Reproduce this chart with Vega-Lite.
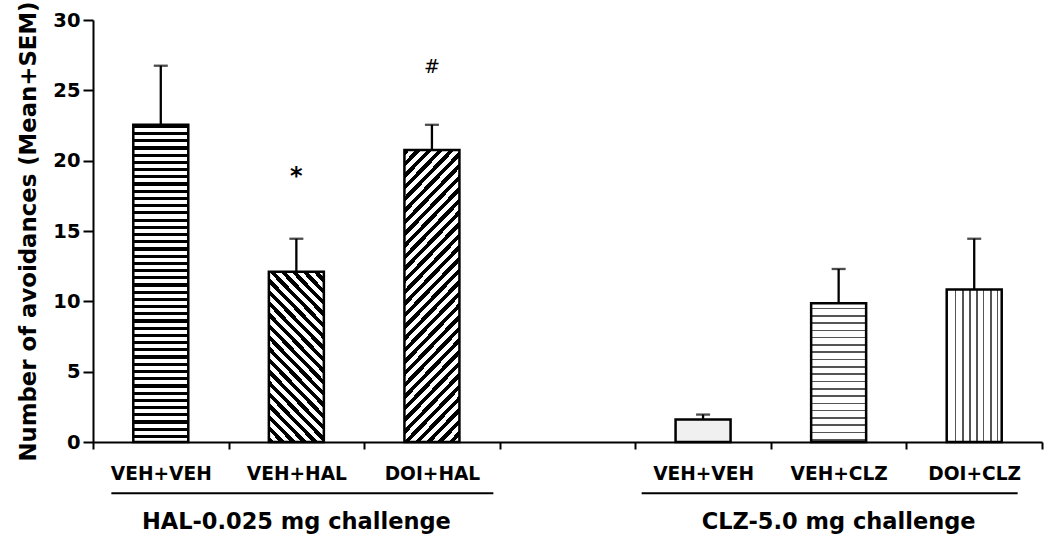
{
"$schema": "https://vega.github.io/schema/vega-lite/v6.json",
"width": 949,
"height": 422,
"autosize": {"type": "none"},
"padding": {"left": 93, "top": 20, "right": 8, "bottom": 93},
"background": "white",
"config": {"view": {"stroke": null}, "font": "DejaVu Sans"},
"data": {"values": [
{"key": "HAL VEH+VEH", "group": "HAL-0.025 mg challenge", "mean": 22.55, "err": 26.75},
{"key": "HAL VEH+HAL", "group": "HAL-0.025 mg challenge", "mean": 12.1, "err": 14.45, "sig": "*"},
{"key": "HAL DOI+HAL", "group": "HAL-0.025 mg challenge", "mean": 20.75, "err": 22.55, "sig": "#"},
{"key": "CLZ VEH+VEH", "group": "CLZ-5.0 mg challenge", "mean": 1.6, "err": 1.95},
{"key": "CLZ VEH+CLZ", "group": "CLZ-5.0 mg challenge", "mean": 9.86, "err": 12.3},
{"key": "CLZ DOI+CLZ", "group": "CLZ-5.0 mg challenge", "mean": 10.85, "err": 14.45}
]},
"encoding": {
"x": {"field": "key", "type": "nominal", "sort": null,
 "scale": {"domain": ["HAL VEH+VEH", "HAL VEH+HAL", "HAL DOI+HAL", "gap", "CLZ VEH+VEH", "CLZ VEH+CLZ", "CLZ DOI+CLZ"], "paddingInner": 0, "paddingOuter": 0},
 "axis": {"title": null, "labelExpr": "indexof(datum.label,' ')>0 ? substring(datum.label,4) : ''", "labelAngle": 0, "labelFont": "DejaVu Sans", "labelFontWeight": "bold", "labelFontSize": 18.6, "labelColor": "#000", "labelPadding": 15, "tickBand": "extent", "tickSize": 7, "tickWidth": 2, "tickColor": "#000", "domainColor": "#000", "domainWidth": 2, "labelOverlap": false}},
"y": {"field": "mean", "type": "quantitative", "scale": {"domain": [0, 30], "nice": false},
 "axis": {"title": "Number of avoidances (Mean+SEM)", "values": [0, 5, 10, 15, 20, 25, 30], "grid": false, "labelFont": "DejaVu Sans", "labelFontWeight": "bold", "labelFontSize": 19.5, "labelColor": "#000", "labelPadding": 3, "tickSize": 10, "tickWidth": 2, "tickColor": "#000", "domainColor": "#000", "domainWidth": 2, "titleFont": "DejaVu Sans", "titleFontWeight": "bold", "titleFontSize": 22.8, "titleColor": "#000", "titlePadding": 12}}
},
"layer": [
{"transform": [{"filter": "datum.key==='HAL VEH+VEH'"}],
 "mark": {"type": "bar", "width": 55, "stroke": "#000", "strokeWidth": 2.5,
 "fill": {"gradient": "linear", "x1": 0, "y1": 0, "x2": 0, "y2": 1, "stops": [
{"offset":0,"color":"#000"},{"offset":0.01,"color":"#000"},{"offset":0.01,"color":"#fff"},{"offset":0.0227,"color":"#fff"},
{"offset":0.0227,"color":"#000"},{"offset":0.0327,"color":"#000"},{"offset":0.0327,"color":"#fff"},{"offset":0.0455,"color":"#fff"},
{"offset":0.0455,"color":"#000"},{"offset":0.0555,"color":"#000"},{"offset":0.0555,"color":"#fff"},{"offset":0.0682,"color":"#fff"},
{"offset":0.0682,"color":"#000"},{"offset":0.0782,"color":"#000"},{"offset":0.0782,"color":"#fff"},{"offset":0.0909,"color":"#fff"},
{"offset":0.0909,"color":"#000"},{"offset":0.1009,"color":"#000"},{"offset":0.1009,"color":"#fff"},{"offset":0.1136,"color":"#fff"},
{"offset":0.1136,"color":"#000"},{"offset":0.1236,"color":"#000"},{"offset":0.1236,"color":"#fff"},{"offset":0.1364,"color":"#fff"},
{"offset":0.1364,"color":"#000"},{"offset":0.1464,"color":"#000"},{"offset":0.1464,"color":"#fff"},{"offset":0.1591,"color":"#fff"},
{"offset":0.1591,"color":"#000"},{"offset":0.1691,"color":"#000"},{"offset":0.1691,"color":"#fff"},{"offset":0.1818,"color":"#fff"},
{"offset":0.1818,"color":"#000"},{"offset":0.1918,"color":"#000"},{"offset":0.1918,"color":"#fff"},{"offset":0.2045,"color":"#fff"},
{"offset":0.2045,"color":"#000"},{"offset":0.2145,"color":"#000"},{"offset":0.2145,"color":"#fff"},{"offset":0.2273,"color":"#fff"},
{"offset":0.2273,"color":"#000"},{"offset":0.2373,"color":"#000"},{"offset":0.2373,"color":"#fff"},{"offset":0.25,"color":"#fff"},
{"offset":0.25,"color":"#000"},{"offset":0.26,"color":"#000"},{"offset":0.26,"color":"#fff"},{"offset":0.2727,"color":"#fff"},
{"offset":0.2727,"color":"#000"},{"offset":0.2827,"color":"#000"},{"offset":0.2827,"color":"#fff"},{"offset":0.2955,"color":"#fff"},
{"offset":0.2955,"color":"#000"},{"offset":0.3055,"color":"#000"},{"offset":0.3055,"color":"#fff"},{"offset":0.3182,"color":"#fff"},
{"offset":0.3182,"color":"#000"},{"offset":0.3282,"color":"#000"},{"offset":0.3282,"color":"#fff"},{"offset":0.3409,"color":"#fff"},
{"offset":0.3409,"color":"#000"},{"offset":0.3509,"color":"#000"},{"offset":0.3509,"color":"#fff"},{"offset":0.3636,"color":"#fff"},
{"offset":0.3636,"color":"#000"},{"offset":0.3736,"color":"#000"},{"offset":0.3736,"color":"#fff"},{"offset":0.3864,"color":"#fff"},
{"offset":0.3864,"color":"#000"},{"offset":0.3964,"color":"#000"},{"offset":0.3964,"color":"#fff"},{"offset":0.4091,"color":"#fff"},
{"offset":0.4091,"color":"#000"},{"offset":0.4191,"color":"#000"},{"offset":0.4191,"color":"#fff"},{"offset":0.4318,"color":"#fff"},
{"offset":0.4318,"color":"#000"},{"offset":0.4418,"color":"#000"},{"offset":0.4418,"color":"#fff"},{"offset":0.4545,"color":"#fff"},
{"offset":0.4545,"color":"#000"},{"offset":0.4645,"color":"#000"},{"offset":0.4645,"color":"#fff"},{"offset":0.4773,"color":"#fff"},
{"offset":0.4773,"color":"#000"},{"offset":0.4873,"color":"#000"},{"offset":0.4873,"color":"#fff"},{"offset":0.5,"color":"#fff"},
{"offset":0.5,"color":"#000"},{"offset":0.51,"color":"#000"},{"offset":0.51,"color":"#fff"},{"offset":0.5227,"color":"#fff"},
{"offset":0.5227,"color":"#000"},{"offset":0.5327,"color":"#000"},{"offset":0.5327,"color":"#fff"},{"offset":0.5455,"color":"#fff"},
{"offset":0.5455,"color":"#000"},{"offset":0.5555,"color":"#000"},{"offset":0.5555,"color":"#fff"},{"offset":0.5682,"color":"#fff"},
{"offset":0.5682,"color":"#000"},{"offset":0.5782,"color":"#000"},{"offset":0.5782,"color":"#fff"},{"offset":0.5909,"color":"#fff"},
{"offset":0.5909,"color":"#000"},{"offset":0.6009,"color":"#000"},{"offset":0.6009,"color":"#fff"},{"offset":0.6136,"color":"#fff"},
{"offset":0.6136,"color":"#000"},{"offset":0.6236,"color":"#000"},{"offset":0.6236,"color":"#fff"},{"offset":0.6364,"color":"#fff"},
{"offset":0.6364,"color":"#000"},{"offset":0.6464,"color":"#000"},{"offset":0.6464,"color":"#fff"},{"offset":0.6591,"color":"#fff"},
{"offset":0.6591,"color":"#000"},{"offset":0.6691,"color":"#000"},{"offset":0.6691,"color":"#fff"},{"offset":0.6818,"color":"#fff"},
{"offset":0.6818,"color":"#000"},{"offset":0.6918,"color":"#000"},{"offset":0.6918,"color":"#fff"},{"offset":0.7045,"color":"#fff"},
{"offset":0.7045,"color":"#000"},{"offset":0.7145,"color":"#000"},{"offset":0.7145,"color":"#fff"},{"offset":0.7273,"color":"#fff"},
{"offset":0.7273,"color":"#000"},{"offset":0.7373,"color":"#000"},{"offset":0.7373,"color":"#fff"},{"offset":0.75,"color":"#fff"},
{"offset":0.75,"color":"#000"},{"offset":0.76,"color":"#000"},{"offset":0.76,"color":"#fff"},{"offset":0.7727,"color":"#fff"},
{"offset":0.7727,"color":"#000"},{"offset":0.7827,"color":"#000"},{"offset":0.7827,"color":"#fff"},{"offset":0.7955,"color":"#fff"},
{"offset":0.7955,"color":"#000"},{"offset":0.8055,"color":"#000"},{"offset":0.8055,"color":"#fff"},{"offset":0.8182,"color":"#fff"},
{"offset":0.8182,"color":"#000"},{"offset":0.8282,"color":"#000"},{"offset":0.8282,"color":"#fff"},{"offset":0.8409,"color":"#fff"},
{"offset":0.8409,"color":"#000"},{"offset":0.8509,"color":"#000"},{"offset":0.8509,"color":"#fff"},{"offset":0.8636,"color":"#fff"},
{"offset":0.8636,"color":"#000"},{"offset":0.8736,"color":"#000"},{"offset":0.8736,"color":"#fff"},{"offset":0.8864,"color":"#fff"},
{"offset":0.8864,"color":"#000"},{"offset":0.8964,"color":"#000"},{"offset":0.8964,"color":"#fff"},{"offset":0.9091,"color":"#fff"},
{"offset":0.9091,"color":"#000"},{"offset":0.9191,"color":"#000"},{"offset":0.9191,"color":"#fff"},{"offset":0.9318,"color":"#fff"},
{"offset":0.9318,"color":"#000"},{"offset":0.9418,"color":"#000"},{"offset":0.9418,"color":"#fff"},{"offset":0.9545,"color":"#fff"},
{"offset":0.9545,"color":"#000"},{"offset":0.9645,"color":"#000"},{"offset":0.9645,"color":"#fff"},{"offset":0.9773,"color":"#fff"},
{"offset":0.9773,"color":"#000"},{"offset":0.9873,"color":"#000"},{"offset":0.9873,"color":"#fff"},{"offset":1,"color":"#fff"}
 ]}}},
{"transform": [{"filter": "datum.key==='HAL VEH+HAL'"}],
 "mark": {"type": "bar", "width": 55, "stroke": "#000", "strokeWidth": 2.5,
 "fill": {"gradient": "linear", "x1": 0, "y1": 1, "x2": 0.402, "y2": -0.2003, "stops": [
{"offset":0,"color":"#000"},{"offset":0.024,"color":"#000"},{"offset":0.024,"color":"#fff"},{"offset":0.05,"color":"#fff"},
{"offset":0.05,"color":"#000"},{"offset":0.074,"color":"#000"},{"offset":0.074,"color":"#fff"},{"offset":0.1,"color":"#fff"},
{"offset":0.1,"color":"#000"},{"offset":0.124,"color":"#000"},{"offset":0.124,"color":"#fff"},{"offset":0.15,"color":"#fff"},
{"offset":0.15,"color":"#000"},{"offset":0.174,"color":"#000"},{"offset":0.174,"color":"#fff"},{"offset":0.2,"color":"#fff"},
{"offset":0.2,"color":"#000"},{"offset":0.224,"color":"#000"},{"offset":0.224,"color":"#fff"},{"offset":0.25,"color":"#fff"},
{"offset":0.25,"color":"#000"},{"offset":0.274,"color":"#000"},{"offset":0.274,"color":"#fff"},{"offset":0.3,"color":"#fff"},
{"offset":0.3,"color":"#000"},{"offset":0.324,"color":"#000"},{"offset":0.324,"color":"#fff"},{"offset":0.35,"color":"#fff"},
{"offset":0.35,"color":"#000"},{"offset":0.374,"color":"#000"},{"offset":0.374,"color":"#fff"},{"offset":0.4,"color":"#fff"},
{"offset":0.4,"color":"#000"},{"offset":0.424,"color":"#000"},{"offset":0.424,"color":"#fff"},{"offset":0.45,"color":"#fff"},
{"offset":0.45,"color":"#000"},{"offset":0.474,"color":"#000"},{"offset":0.474,"color":"#fff"},{"offset":0.5,"color":"#fff"},
{"offset":0.5,"color":"#000"},{"offset":0.524,"color":"#000"},{"offset":0.524,"color":"#fff"},{"offset":0.55,"color":"#fff"},
{"offset":0.55,"color":"#000"},{"offset":0.574,"color":"#000"},{"offset":0.574,"color":"#fff"},{"offset":0.6,"color":"#fff"},
{"offset":0.6,"color":"#000"},{"offset":0.624,"color":"#000"},{"offset":0.624,"color":"#fff"},{"offset":0.65,"color":"#fff"},
{"offset":0.65,"color":"#000"},{"offset":0.674,"color":"#000"},{"offset":0.674,"color":"#fff"},{"offset":0.7,"color":"#fff"},
{"offset":0.7,"color":"#000"},{"offset":0.724,"color":"#000"},{"offset":0.724,"color":"#fff"},{"offset":0.75,"color":"#fff"},
{"offset":0.75,"color":"#000"},{"offset":0.774,"color":"#000"},{"offset":0.774,"color":"#fff"},{"offset":0.8,"color":"#fff"},
{"offset":0.8,"color":"#000"},{"offset":0.824,"color":"#000"},{"offset":0.824,"color":"#fff"},{"offset":0.85,"color":"#fff"},
{"offset":0.85,"color":"#000"},{"offset":0.874,"color":"#000"},{"offset":0.874,"color":"#fff"},{"offset":0.9,"color":"#fff"},
{"offset":0.9,"color":"#000"},{"offset":0.924,"color":"#000"},{"offset":0.924,"color":"#fff"},{"offset":0.95,"color":"#fff"},
{"offset":0.95,"color":"#000"},{"offset":0.974,"color":"#000"},{"offset":0.974,"color":"#fff"},{"offset":1,"color":"#fff"}
 ]}}},
{"transform": [{"filter": "datum.key==='HAL DOI+HAL'"}],
 "mark": {"type": "bar", "width": 55, "stroke": "#000", "strokeWidth": 2.5,
 "fill": {"gradient": "linear", "x1": 0, "y1": 0, "x2": 0.2248, "y2": 1.1513, "stops": [
{"offset":0,"color":"#000"},{"offset":0.016,"color":"#000"},{"offset":0.016,"color":"#fff"},{"offset":0.0333,"color":"#fff"},
{"offset":0.0333,"color":"#000"},{"offset":0.0493,"color":"#000"},{"offset":0.0493,"color":"#fff"},{"offset":0.0667,"color":"#fff"},
{"offset":0.0667,"color":"#000"},{"offset":0.0827,"color":"#000"},{"offset":0.0827,"color":"#fff"},{"offset":0.1,"color":"#fff"},
{"offset":0.1,"color":"#000"},{"offset":0.116,"color":"#000"},{"offset":0.116,"color":"#fff"},{"offset":0.1333,"color":"#fff"},
{"offset":0.1333,"color":"#000"},{"offset":0.1493,"color":"#000"},{"offset":0.1493,"color":"#fff"},{"offset":0.1667,"color":"#fff"},
{"offset":0.1667,"color":"#000"},{"offset":0.1827,"color":"#000"},{"offset":0.1827,"color":"#fff"},{"offset":0.2,"color":"#fff"},
{"offset":0.2,"color":"#000"},{"offset":0.216,"color":"#000"},{"offset":0.216,"color":"#fff"},{"offset":0.2333,"color":"#fff"},
{"offset":0.2333,"color":"#000"},{"offset":0.2493,"color":"#000"},{"offset":0.2493,"color":"#fff"},{"offset":0.2667,"color":"#fff"},
{"offset":0.2667,"color":"#000"},{"offset":0.2827,"color":"#000"},{"offset":0.2827,"color":"#fff"},{"offset":0.3,"color":"#fff"},
{"offset":0.3,"color":"#000"},{"offset":0.316,"color":"#000"},{"offset":0.316,"color":"#fff"},{"offset":0.3333,"color":"#fff"},
{"offset":0.3333,"color":"#000"},{"offset":0.3493,"color":"#000"},{"offset":0.3493,"color":"#fff"},{"offset":0.3667,"color":"#fff"},
{"offset":0.3667,"color":"#000"},{"offset":0.3827,"color":"#000"},{"offset":0.3827,"color":"#fff"},{"offset":0.4,"color":"#fff"},
{"offset":0.4,"color":"#000"},{"offset":0.416,"color":"#000"},{"offset":0.416,"color":"#fff"},{"offset":0.4333,"color":"#fff"},
{"offset":0.4333,"color":"#000"},{"offset":0.4493,"color":"#000"},{"offset":0.4493,"color":"#fff"},{"offset":0.4667,"color":"#fff"},
{"offset":0.4667,"color":"#000"},{"offset":0.4827,"color":"#000"},{"offset":0.4827,"color":"#fff"},{"offset":0.5,"color":"#fff"},
{"offset":0.5,"color":"#000"},{"offset":0.516,"color":"#000"},{"offset":0.516,"color":"#fff"},{"offset":0.5333,"color":"#fff"},
{"offset":0.5333,"color":"#000"},{"offset":0.5493,"color":"#000"},{"offset":0.5493,"color":"#fff"},{"offset":0.5667,"color":"#fff"},
{"offset":0.5667,"color":"#000"},{"offset":0.5827,"color":"#000"},{"offset":0.5827,"color":"#fff"},{"offset":0.6,"color":"#fff"},
{"offset":0.6,"color":"#000"},{"offset":0.616,"color":"#000"},{"offset":0.616,"color":"#fff"},{"offset":0.6333,"color":"#fff"},
{"offset":0.6333,"color":"#000"},{"offset":0.6493,"color":"#000"},{"offset":0.6493,"color":"#fff"},{"offset":0.6667,"color":"#fff"},
{"offset":0.6667,"color":"#000"},{"offset":0.6827,"color":"#000"},{"offset":0.6827,"color":"#fff"},{"offset":0.7,"color":"#fff"},
{"offset":0.7,"color":"#000"},{"offset":0.716,"color":"#000"},{"offset":0.716,"color":"#fff"},{"offset":0.7333,"color":"#fff"},
{"offset":0.7333,"color":"#000"},{"offset":0.7493,"color":"#000"},{"offset":0.7493,"color":"#fff"},{"offset":0.7667,"color":"#fff"},
{"offset":0.7667,"color":"#000"},{"offset":0.7827,"color":"#000"},{"offset":0.7827,"color":"#fff"},{"offset":0.8,"color":"#fff"},
{"offset":0.8,"color":"#000"},{"offset":0.816,"color":"#000"},{"offset":0.816,"color":"#fff"},{"offset":0.8333,"color":"#fff"},
{"offset":0.8333,"color":"#000"},{"offset":0.8493,"color":"#000"},{"offset":0.8493,"color":"#fff"},{"offset":0.8667,"color":"#fff"},
{"offset":0.8667,"color":"#000"},{"offset":0.8827,"color":"#000"},{"offset":0.8827,"color":"#fff"},{"offset":0.9,"color":"#fff"},
{"offset":0.9,"color":"#000"},{"offset":0.916,"color":"#000"},{"offset":0.916,"color":"#fff"},{"offset":0.9333,"color":"#fff"},
{"offset":0.9333,"color":"#000"},{"offset":0.9493,"color":"#000"},{"offset":0.9493,"color":"#fff"},{"offset":0.9667,"color":"#fff"},
{"offset":0.9667,"color":"#000"},{"offset":0.9827,"color":"#000"},{"offset":0.9827,"color":"#fff"},{"offset":1,"color":"#fff"}
 ]}}},
{"transform": [{"filter": "datum.key==='CLZ VEH+VEH'"}],
 "mark": {"type": "bar", "width": 55, "stroke": "#000", "strokeWidth": 2.5, "fill": "#f0f0f0"}},
{"transform": [{"filter": "datum.key==='CLZ VEH+CLZ'"}],
 "mark": {"type": "bar", "width": 55, "stroke": "#000", "strokeWidth": 2.5,
 "fill": {"gradient": "linear", "x1": 0, "y1": 0, "x2": 0, "y2": 1, "stops": [
{"offset":0,"color":"#fff"},
{"offset":0.0316,"color":"#fff"},{"offset":0.0316,"color":"#555"},{"offset":0.0426,"color":"#555"},{"offset":0.0426,"color":"#fff"},
{"offset":0.0842,"color":"#fff"},{"offset":0.0842,"color":"#555"},{"offset":0.0952,"color":"#555"},{"offset":0.0952,"color":"#fff"},
{"offset":0.1368,"color":"#fff"},{"offset":0.1368,"color":"#555"},{"offset":0.1478,"color":"#555"},{"offset":0.1478,"color":"#fff"},
{"offset":0.1895,"color":"#fff"},{"offset":0.1895,"color":"#555"},{"offset":0.2005,"color":"#555"},{"offset":0.2005,"color":"#fff"},
{"offset":0.2421,"color":"#fff"},{"offset":0.2421,"color":"#555"},{"offset":0.2531,"color":"#555"},{"offset":0.2531,"color":"#fff"},
{"offset":0.2947,"color":"#fff"},{"offset":0.2947,"color":"#555"},{"offset":0.3057,"color":"#555"},{"offset":0.3057,"color":"#fff"},
{"offset":0.3474,"color":"#fff"},{"offset":0.3474,"color":"#555"},{"offset":0.3584,"color":"#555"},{"offset":0.3584,"color":"#fff"},
{"offset":0.4,"color":"#fff"},{"offset":0.4,"color":"#555"},{"offset":0.411,"color":"#555"},{"offset":0.411,"color":"#fff"},
{"offset":0.4526,"color":"#fff"},{"offset":0.4526,"color":"#555"},{"offset":0.4636,"color":"#555"},{"offset":0.4636,"color":"#fff"},
{"offset":0.5053,"color":"#fff"},{"offset":0.5053,"color":"#555"},{"offset":0.5163,"color":"#555"},{"offset":0.5163,"color":"#fff"},
{"offset":0.5579,"color":"#fff"},{"offset":0.5579,"color":"#555"},{"offset":0.5689,"color":"#555"},{"offset":0.5689,"color":"#fff"},
{"offset":0.6105,"color":"#fff"},{"offset":0.6105,"color":"#555"},{"offset":0.6215,"color":"#555"},{"offset":0.6215,"color":"#fff"},
{"offset":0.6632,"color":"#fff"},{"offset":0.6632,"color":"#555"},{"offset":0.6742,"color":"#555"},{"offset":0.6742,"color":"#fff"},
{"offset":0.7158,"color":"#fff"},{"offset":0.7158,"color":"#555"},{"offset":0.7268,"color":"#555"},{"offset":0.7268,"color":"#fff"},
{"offset":0.7684,"color":"#fff"},{"offset":0.7684,"color":"#555"},{"offset":0.7794,"color":"#555"},{"offset":0.7794,"color":"#fff"},
{"offset":0.8211,"color":"#fff"},{"offset":0.8211,"color":"#555"},{"offset":0.8321,"color":"#555"},{"offset":0.8321,"color":"#fff"},
{"offset":0.8737,"color":"#fff"},{"offset":0.8737,"color":"#555"},{"offset":0.8847,"color":"#555"},{"offset":0.8847,"color":"#fff"},
{"offset":0.9263,"color":"#fff"},{"offset":0.9263,"color":"#555"},{"offset":0.9373,"color":"#555"},{"offset":0.9373,"color":"#fff"},
{"offset":0.9789,"color":"#fff"},{"offset":0.9789,"color":"#555"},{"offset":0.9899,"color":"#555"},{"offset":0.9899,"color":"#fff"},
{"offset":1,"color":"#fff"}
 ]}}},
{"transform": [{"filter": "datum.key==='CLZ DOI+CLZ'"}],
 "mark": {"type": "bar", "width": 55, "stroke": "#000", "strokeWidth": 2.5,
 "fill": {"gradient": "linear", "x1": 0, "y1": 0, "x2": 1, "y2": 0, "stops": [
{"offset":0,"color":"#fff"},
{"offset":0.15,"color":"#fff"},{"offset":0.15,"color":"#555"},{"offset":0.176,"color":"#555"},{"offset":0.176,"color":"#fff"},
{"offset":0.28,"color":"#fff"},{"offset":0.28,"color":"#555"},{"offset":0.306,"color":"#555"},{"offset":0.306,"color":"#fff"},
{"offset":0.41,"color":"#fff"},{"offset":0.41,"color":"#555"},{"offset":0.436,"color":"#555"},{"offset":0.436,"color":"#fff"},
{"offset":0.535,"color":"#fff"},{"offset":0.535,"color":"#555"},{"offset":0.561,"color":"#555"},{"offset":0.561,"color":"#fff"},
{"offset":0.66,"color":"#fff"},{"offset":0.66,"color":"#555"},{"offset":0.686,"color":"#555"},{"offset":0.686,"color":"#fff"},
{"offset":0.79,"color":"#fff"},{"offset":0.79,"color":"#555"},{"offset":0.816,"color":"#555"},{"offset":0.816,"color":"#fff"},
{"offset":0.915,"color":"#fff"},{"offset":0.915,"color":"#555"},{"offset":0.941,"color":"#555"},{"offset":0.941,"color":"#fff"},
{"offset":1,"color":"#fff"}
 ]}}},
{"mark": {"type": "rule", "strokeWidth": 2.3, "color": "#000"},
 "encoding": {"y": {"field": "mean", "type": "quantitative"}, "y2": {"field": "err"}}},
{"mark": {"type": "tick", "orient": "horizontal", "size": 14, "thickness": 2.3, "color": "#000"},
 "encoding": {"y": {"field": "err", "type": "quantitative"}}},
{"transform": [{"filter": "datum.sig==='*'"}],
 "mark": {"type": "text", "font": "DejaVu Sans", "fontWeight": "bold", "fontSize": 24, "dy": -62, "baseline": "middle", "color": "#000"},
 "encoding": {"y": {"field": "err", "type": "quantitative"}, "text": {"field": "sig"}}},
{"transform": [{"filter": "datum.sig==='#'"}],
 "mark": {"type": "text", "font": "DejaVu Sans", "fontWeight": "normal", "fontSize": 19, "dy": -58, "baseline": "middle", "color": "#000"},
 "encoding": {"y": {"field": "err", "type": "quantitative"}, "text": {"field": "sig"}}},
{"transform": [{"filter": "datum.key==='HAL VEH+HAL'"}],
 "mark": {"type": "bar", "width": 382, "xOffset": 6, "color": "#000"},
 "encoding": {"y": {"datum": -3.58}, "y2": {"datum": -3.72}}},
{"transform": [{"filter": "datum.key==='CLZ VEH+CLZ'"}],
 "mark": {"type": "bar", "width": 376, "xOffset": -9, "color": "#000"},
 "encoding": {"y": {"datum": -3.58}, "y2": {"datum": -3.72}}},
{"transform": [{"filter": "datum.key==='HAL VEH+HAL' || datum.key==='CLZ VEH+CLZ'"}],
 "mark": {"type": "text", "font": "DejaVu Sans", "fontWeight": "bold", "fontSize": 22.5, "baseline": "alphabetic", "color": "#000"},
 "encoding": {"y": {"datum": -6.18}, "text": {"field": "group"}}}
]
}
